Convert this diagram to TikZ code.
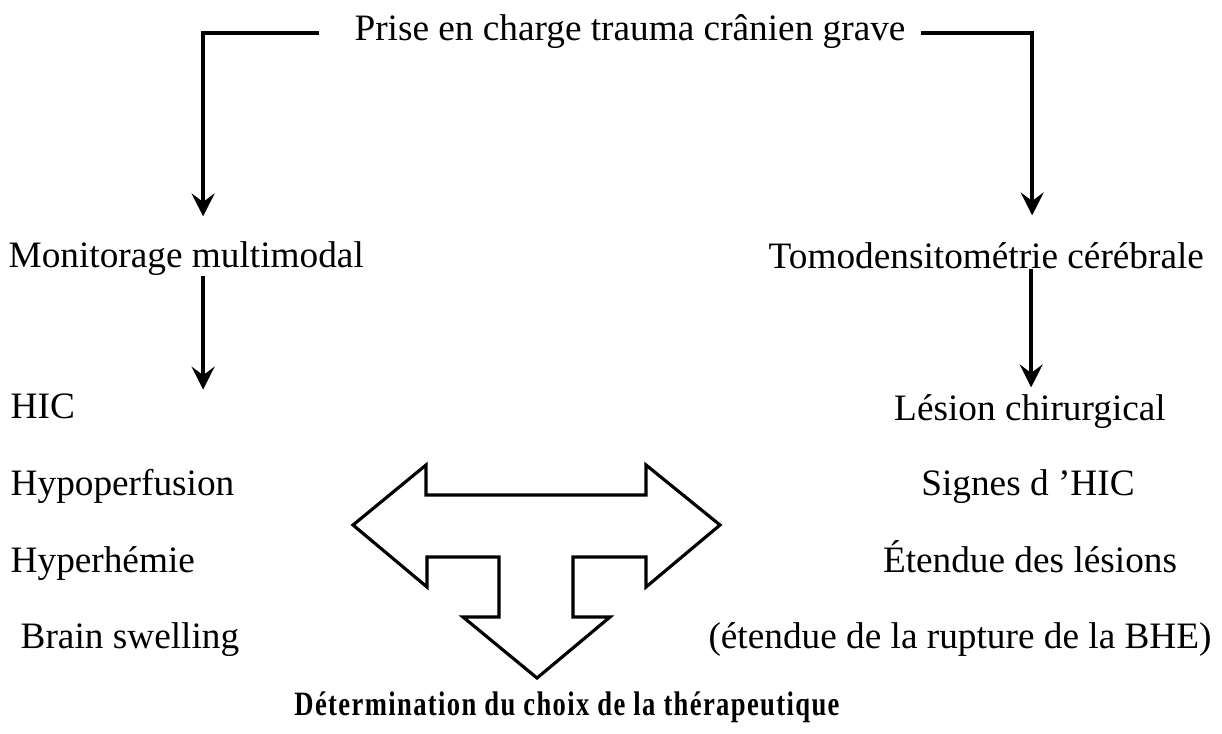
\documentclass[tikz,border=0pt]{standalone}
\usepackage{fontspec}
\setmainfont{Liberation Serif}
\newfontfamily\fontcond[FakeStretch=0.78,LetterSpace=4]{Liberation Serif}
\usepackage{tikz}
\usetikzlibrary{arrows.meta,calc}

\begin{document}
\begin{tikzpicture}[x=0.01cm, y=-0.01cm,
    every node/.style={font=\fontsize{10.6}{12}\selectfont, inner sep=0pt},
    fleche/.style={line width=1.2pt, -{Stealth[length=6.5pt,width=6.5pt,inset=2.4pt]}},
    triple/.style={line width=0.9pt, line join=miter}]
  \useasboundingbox (0,0) rectangle (1222,733);
  % titre
  \node[anchor=base] (titre) at (630,40) {Prise en charge trauma crânien grave};
  % deux branches
  \node[anchor=base west] (moni) at (8,267) {Monitorage multimodal};
  \node[anchor=base west] (tomo) at (768,268) {Tomodensitométrie cérébrale};
  % colonne gauche
  \foreach \nom/\x/\y/\lab in {hic/10/418/HIC, hypo/10/495/Hypoperfusion,
      hyper/10/572/Hyperhémie, brain/20/648/Brain swelling} {
    \node[anchor=base west] (\nom) at (\x,\y) {\lab};
  }
  % colonne droite
  \foreach \nom/\x/\y/\lab in {lesion/1030/420/Lésion chirurgical, signes/1028/495/Signes d ’HIC,
      etendue/1030/572/Étendue des lésions, rupture/960/648/(étendue de la rupture de la BHE)} {
    \node[anchor=base] (\nom) at (\x,\y) {\lab};
  }
  % conclusion
  \node[anchor=base] (choix) at (567,715)
    {\fontcond\fontsize{9.7}{11}\selectfont\bfseries Détermination du choix de la thérapeutique};
  % fleches
  \draw[fleche] ([xshift=-0.35cm,yshift=-0.02cm]titre.west) -| ([xshift=1.95cm,yshift=0.24cm]moni.north west);
  \draw[fleche] ([xshift=0.15cm,yshift=-0.02cm]titre.east) -| ([xshift=2.64cm,yshift=0.26cm]tomo.north west);
  \draw[fleche] ([xshift=1.95cm]moni.south west) -- ([xshift=1.95cm,yshift=0.03cm]moni.south west |- hic.north);
  \draw[fleche] ([xshift=2.63cm]tomo.south west) -- ([xshift=2.63cm,yshift=0.06cm]tomo.south west |- lesion.north);
  % fleche a trois pointes
  \draw[triple] (353,525) -- (426,465) -- (426,495) -- (646,495) -- (646,465) -- (720,525)
    -- (646,587) -- (646,557) -- (573,557) -- (573,617) -- (610,617) -- (537,678)
    -- (463,617) -- (499,617) -- (499,557) -- (427,557) -- (427,587) -- cycle;
\end{tikzpicture}
\end{document}
